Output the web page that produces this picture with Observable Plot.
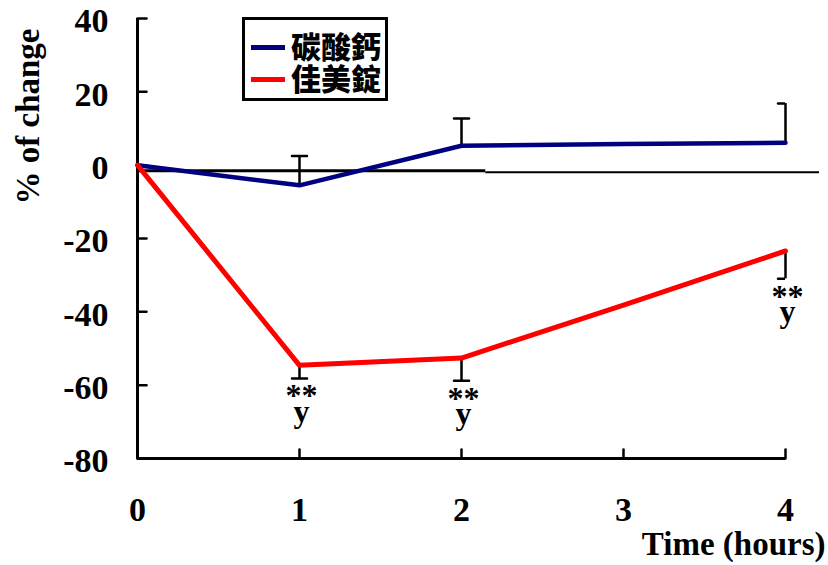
<!DOCTYPE html>
<html>
<head>
<meta charset="utf-8">
<script src="https://cdn.jsdelivr.net/npm/d3@7"></script>
<script src="https://cdn.jsdelivr.net/npm/@observablehq/plot@0.6"></script>
<style>
  html, body { margin: 0; padding: 0; background: #fff; }
  #wrap { position: relative; width: 828px; height: 565px; overflow: hidden; }
  #legend { position: absolute; left: 242px; top: 17px; width: 140px; height: 78px; border: 3px solid #000; background: #fff; }
  .lg-row { position: absolute; left: 0; height: 32px; width: 140px; }
  .lg-line { position: absolute; left: 6px; width: 34px; height: 5px; }
  .lg-text { position: absolute; left: 46px; font-family: "Noto Sans CJK TC", sans-serif; font-weight: 900; font-size: 30px; line-height: 30px; color: #000; white-space: nowrap; }
</style>
</head>
<body>
<div id="wrap"></div>
<script>
// ---- data ----
const times = [0, 1, 2, 3, 4];
const seriesNames = ["碳酸鈣", "佳美錠"];
const seriesColors = ["#000080", "#ff0000"];
const calcium = [0, -5.5, 5.3, 5.8, 6.1];        // 碳酸鈣
const jiamei = [0, -54.6, -52.6, -38.2, -23.4];  // 佳美錠
const errTimes = [1, 2, 4];
const calciumErr = [8.0, 7.4, 10.7];   // upward bars
const jiameiErr = [3.6, 6.2, 7.6];     // downward bars
const sigTimes = [1, 2, 4];
const sigLabels = ["**\ny", "**\ny", "**\ny"];
const refThick = [{x1: 0, x2: 2.15, y: -1.5}];
const refThin = [{x1: 2.15, x2: 4.21, y: -1.95}];
const xTicks = [0, 1, 2, 3, 4];
const yTicks = [-80, -60, -40, -20, 0, 20, 40];
const yTitle = "% of change";
const xTitle = "Time (hours)";

const blueRows = times.map((t, i) => ({t, v: calcium[i]}));
const redRows = times.map((t, i) => ({t, v: jiamei[i]}));
const blueErr = errTimes.map((t, i) => ({t, v: calcium[times.indexOf(t)], e: calcium[times.indexOf(t)] + calciumErr[i]}));
const redErr = errTimes.map((t, i) => ({t, v: jiamei[times.indexOf(t)], e: jiamei[times.indexOf(t)] - jiameiErr[i]}));
const sigRows = sigTimes.map((t, i) => ({t, y: redErr.find(d => d.t === t).e, s: sigLabels[i]}));

const serif = "'Liberation Serif', 'Times New Roman', serif";
const stick = {draw(context, l) { context.moveTo(0, 0); context.lineTo(0, -l); }};

const chart = Plot.plot({
  width: 828,
  height: 565,
  marginLeft: 137,
  marginRight: 43,
  marginTop: 18,
  marginBottom: 107,
  x: {domain: [0, 4]},
  y: {domain: [-80, 40]},
  style: {fontFamily: serif, fontWeight: "bold", color: "#000", background: "#fff", overflow: "visible"},
  marks: [
    // axis labels
    Plot.axisY(yTicks, {tickSize: 0, tickPadding: 29, label: null, fontSize: 34, fontWeight: "bold", dy: 3, tickFormat: d => String(d)}),
    Plot.axisX(xTicks, {tickSize: 0, tickPadding: 38, label: null, fontSize: 34, fontWeight: "bold", tickFormat: d => String(d)}),
    // inward ticks
    Plot.vector(yTicks, {y: d => d, frameAnchor: "left", length: 9, rotate: 90, anchor: "start", shape: stick, stroke: "#000", strokeWidth: 2.5}),
    Plot.vector(xTicks, {x: d => d, frameAnchor: "bottom", length: 9, rotate: 0, anchor: "start", shape: stick, stroke: "#000", strokeWidth: 2.5}),
    // axis lines
    Plot.ruleX([0], {stroke: "#000", strokeWidth: 3}),
    Plot.ruleY([-80], {stroke: "#000", strokeWidth: 3}),
    // reference line
    Plot.ruleY(refThick, {x1: "x1", x2: "x2", y: "y", stroke: "#000", strokeWidth: 3}),
    Plot.ruleY(refThin, {x1: "x1", x2: "x2", y: "y", stroke: "#000", strokeWidth: 2}),
    // error bars
    Plot.ruleX(blueErr, {x: "t", y1: "v", y2: "e", stroke: "#000", strokeWidth: 2.5}),
    Plot.vector(blueErr, {x: "t", y: "e", length: 15, rotate: 90, anchor: "middle", shape: stick, stroke: "#000", strokeWidth: 2.5, clip: true}),
    Plot.ruleX(redErr, {x: "t", y1: "v", y2: "e", stroke: "#000", strokeWidth: 2.5}),
    Plot.vector(redErr, {x: "t", y: "e", length: 15, rotate: 90, anchor: "middle", shape: stick, stroke: "#000", strokeWidth: 2.5, clip: true}),
    // series
    Plot.line(blueRows, {x: "t", y: "v", stroke: seriesColors[0], strokeWidth: 4.5}),
    Plot.line(redRows, {x: "t", y: "v", stroke: seriesColors[1], strokeWidth: 5}),
    // significance
    Plot.text(sigRows, {x: "t", y: "y", text: "s", lineAnchor: "top", lineHeight: 0.48, dy: 17, dx: 2, fontSize: 32, fontWeight: "bold", fill: "#000"}),
    // titles
    Plot.text([yTitle], {frameAnchor: "left", textAnchor: "middle", rotate: -90, dx: -109, dy: -122, fontSize: 33, fontWeight: "bold", fill: "#000"}),
    Plot.text([xTitle], {frameAnchor: "bottom-right", textAnchor: "end", dx: 40, dy: 96, fontSize: 33, fontWeight: "bold", fill: "#000"})
  ]
});

const wrap = document.getElementById("wrap");
wrap.appendChild(chart);

// legend
const legend = document.createElement("div");
legend.id = "legend";
seriesNames.forEach((name, i) => {
  const row = document.createElement("div");
  row.className = "lg-row";
  row.style.top = (i * 32 + 12) + "px";
  const ln = document.createElement("div");
  ln.className = "lg-line";
  ln.style.background = seriesColors[i];
  ln.style.top = "13px";
  const tx = document.createElement("div");
  tx.className = "lg-text";
  tx.style.top = "-2px";
  tx.textContent = name;
  row.appendChild(ln);
  row.appendChild(tx);
  legend.appendChild(row);
});
wrap.appendChild(legend);
</script>
</body>
</html>
